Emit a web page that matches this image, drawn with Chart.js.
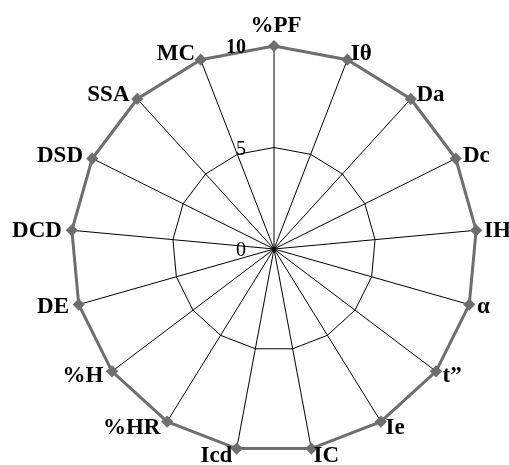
<!DOCTYPE html>
<html>
<head>
<meta charset="utf-8">
<script src="https://cdn.jsdelivr.net/npm/chart.js@4"></script>
<style>
html,body{margin:0;padding:0;background:#fff;}
#wrap{width:509px;height:465px;position:relative;}
</style>
</head>
<body>
<div id="wrap"><canvas id="c"></canvas></div>
<script>
const categories = ['%PF','Iθ','Da','Dc','IH','α','t\u201D','Ie','IC','Icd','%HR','%H','DE','DCD','DSD','SSA','MC'];
const seriesValues = [10,10,10,10,10,10,10,10,10,10,10,10,10,10,10,10,10];
const tickLabels = [0,5,10];

const FONT = '"Liberation Serif", "Times New Roman", serif';

const textPlugin = {
  id: 'textPlugin',
  afterDraw(chart) {
    const s = chart.scales.r;
    const ctx = chart.ctx;
    ctx.save();
    ctx.fillStyle = '#000';
    // tick labels
    ctx.textAlign = 'right';
    ctx.textBaseline = 'middle';
    tickLabels.forEach(v => {
      ctx.font = (v === 10 ? 'bold ' : '') + '20px ' + FONT;
      const d = s.getDistanceFromCenterForValue(v);
      ctx.fillText(String(v), s.xCenter - 28, s.yCenter - d + 2);
    });
    // point labels
    ctx.font = 'bold 23px ' + FONT;
    chart.data.labels.forEach((lab, i) => {
      const p = s.getPointPosition(i, s.drawingArea + 7);
      const dx = p.x - s.xCenter;
      if (Math.abs(dx) < 3) {
        ctx.textAlign = 'center';
        ctx.textBaseline = 'alphabetic';
        ctx.fillText(lab, p.x + 2, p.y - 7);
      } else {
        ctx.textAlign = dx > 0 ? 'left' : 'right';
        ctx.textBaseline = 'middle';
        ctx.fillText(lab, p.x + (dx > 0 ? 1 : -3), p.y + 1);
      }
    });
    ctx.restore();
  }
};

new Chart(document.getElementById('c'), {
  type: 'radar',
  data: {
    labels: categories,
    datasets: [{
      data: seriesValues,
      borderColor: '#6e6e6e',
      borderWidth: 3,
      backgroundColor: 'rgba(0,0,0,0)',
      fill: false,
      pointStyle: 'rectRot',
      pointRadius: 4,
      pointBackgroundColor: '#6e6e6e',
      pointBorderColor: '#6e6e6e',
      tension: 0
    }]
  },
  options: {
    responsive: true,
    maintainAspectRatio: false,
    animation: false,
    layout: { padding: { top: 46, bottom: 13, left: 71, right: 32 } },
    plugins: { legend: { display: false }, tooltip: { enabled: false } },
    scales: {
      r: {
        min: 0, max: 10,
        ticks: { display: false, stepSize: 5 },
        grid: { color: '#000', lineWidth: 1, circular: false },
        angleLines: { color: '#000', lineWidth: 1 },
        pointLabels: { display: false }
      }
    }
  },
  plugins: [textPlugin]
});
</script>
</body>
</html>
